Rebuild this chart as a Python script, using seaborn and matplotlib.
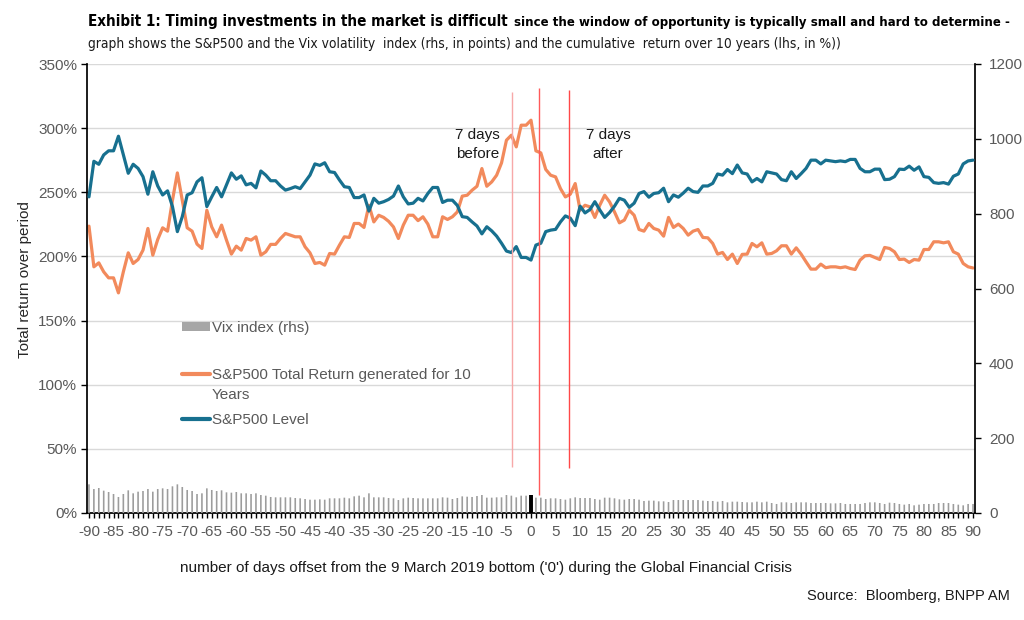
import numpy as np
import pandas as pd
import matplotlib
matplotlib.use("Agg")
import matplotlib.pyplot as plt
import seaborn as sns
from matplotlib import font_manager
from matplotlib.patches import Patch
from matplotlib.lines import Line2D

# trading days around the 9 March 2009 bottom
days = list(range(-90, 91))

# S&P500 level (rhs, points)
sp_level = [
    845, 940, 932, 957, 968, 968, 1007, 957, 908, 932,
    921, 899, 852, 912, 874, 850, 861, 819, 752, 792,
    850, 856, 885, 896, 819, 845, 870, 845, 877, 909,
    892, 901, 877, 881, 869, 914, 903, 888, 888, 874,
    863, 867, 872, 867, 885, 903, 933, 929, 936, 912,
    910, 890, 872, 870, 843, 843, 850, 807, 841, 828,
    832, 838, 847, 874, 845, 826, 828, 841, 834, 854,
    870, 870, 830, 836, 836, 822, 792, 790, 778, 767,
    746, 765, 754, 740, 721, 700, 696, 712, 683, 683,
    676, 716, 721, 752, 756, 758, 778, 794, 788, 768,
    820, 802, 811, 832, 810, 790, 803, 820, 841, 836,
    817, 828, 854, 859, 844, 854, 856, 868, 832, 850,
    844, 855, 868, 859, 857, 874, 874, 881, 906, 903,
    918, 907, 930, 909, 906, 885, 894, 885, 912, 909,
    906, 891, 888, 912, 894, 907, 921, 943, 943, 933,
    943, 941, 939, 941, 939, 945, 945, 921, 912, 912,
    919, 919, 891, 892, 899, 919, 918, 927, 916, 925,
    899, 897, 883, 881, 883, 879, 900, 906, 933, 941,
    943,
]

# S&P500 total return generated over the following 10 years (lhs, %)
sp_return = [
    223.6, 191.9, 195.0, 188.0, 183.3, 183.3, 171.6, 188.0, 202.8, 194.5,
    197.6, 204.9, 221.8, 201.0, 213.2, 222.3, 219.7, 243.8, 265.1, 243.8,
    222.3, 219.7, 209.6, 206.2, 236.0, 223.0, 215.3, 224.4, 212.7, 201.8,
    208.0, 204.9, 214.0, 212.7, 215.3, 201.0, 203.6, 209.4, 209.4, 214.0,
    217.9, 216.6, 215.3, 215.3, 207.5, 202.8, 194.5, 195.3, 193.2, 202.3,
    201.8, 208.8, 215.3, 214.8, 225.7, 225.7, 222.6, 239.9, 226.9, 232.1,
    230.4, 227.4, 223.0, 214.0, 224.4, 232.1, 232.1, 227.9, 230.9, 225.2,
    215.3, 215.3, 230.9, 228.8, 230.9, 234.7, 247.0, 247.7, 251.6, 254.7,
    268.5, 254.7, 258.1, 263.3, 272.9, 290.6, 294.5, 285.4, 302.3, 302.3,
    306.2, 282.3, 280.7, 267.8, 263.3, 262.0, 252.9, 246.4, 248.5, 256.8,
    236.0, 239.9, 238.6, 230.4, 239.9, 247.7, 242.5, 234.7, 226.2, 228.3,
    236.0, 232.1, 221.0, 219.7, 225.7, 221.8, 220.5, 215.8, 230.4, 222.6,
    225.2, 221.8, 216.6, 219.7, 221.0, 214.8, 214.5, 210.1, 201.8, 203.1,
    197.6, 201.8, 194.5, 201.6, 201.8, 210.1, 207.5, 210.6, 201.8, 202.3,
    204.4, 208.3, 208.3, 201.8, 206.7, 201.8, 195.8, 190.1, 190.1, 194.0,
    191.2, 191.9, 191.9, 191.2, 191.9, 190.6, 189.8, 197.1, 200.5, 200.8,
    199.2, 197.6, 207.0, 206.2, 203.6, 197.6, 197.9, 195.3, 197.6, 197.1,
    205.4, 205.4, 211.4, 211.4, 210.6, 211.4, 203.6, 201.8, 194.5, 191.9,
    191.0,
]

# Vix index (rhs, points)
vix = [
    76.6, 64.1, 66.8, 59.7, 56.1, 50.8, 42.8, 50.8, 60.6, 52.6,
    57.0, 58.8, 64.1, 57.0, 64.1, 65.9, 64.1, 71.3, 76.6, 69.5,
    61.5, 58.8, 50.8, 52.6, 65.9, 61.5, 58.8, 60.6, 55.2, 54.3,
    56.1, 52.6, 52.6, 50.8, 52.6, 48.1, 46.3, 42.8, 41.9, 41.9,
    41.9, 41.9, 40.1, 39.2, 37.4, 35.6, 35.6, 36.5, 35.6, 39.2,
    39.2, 39.2, 41.0, 39.2, 44.5, 46.3, 41.9, 52.6, 41.9, 41.9,
    41.9, 40.1, 39.2, 34.7, 39.2, 41.0, 40.1, 39.2, 39.2, 39.2,
    39.2, 39.2, 41.9, 41.0, 37.4, 40.1, 44.5, 43.6, 42.8, 45.4,
    48.1, 41.0, 41.0, 41.9, 41.9, 48.1, 46.3, 41.9, 46.3, 46.3,
    48.1, 41.0, 41.0, 37.4, 39.2, 39.2, 37.4, 35.6, 39.2, 41.9,
    40.1, 40.1, 40.1, 37.4, 35.6, 41.0, 41.0, 39.2, 36.5, 35.6,
    37.4, 37.4, 35.6, 32.1, 33.0, 33.0, 31.2, 31.2, 29.4, 34.7,
    34.7, 34.7, 34.7, 34.7, 34.7, 33.0, 32.1, 32.1, 30.3, 32.1,
    28.5, 30.3, 30.3, 29.4, 28.5, 28.5, 30.3, 28.5, 30.3, 26.7,
    24.1, 28.5, 28.5, 26.7, 28.5, 28.5, 28.5, 26.7, 26.7, 26.7,
    26.7, 25.8, 25.8, 26.7, 24.1, 24.1, 24.1, 24.1, 26.7, 28.5,
    28.5, 26.7, 24.1, 27.6, 26.7, 24.1, 22.3, 24.1, 20.5, 22.3,
    24.1, 24.1, 24.1, 26.7, 26.7, 26.7, 24.1, 22.3, 20.5, 24.1,
    24.1,
]

# the "7 days before / bottom / 7 days after" markers
marker_days = [-3.9, 1.7, 7.8]
marker_bottom = [123, 48, 120]
marker_top = [1125, 1136, 1130]
marker_colors = ["#f7a8a8", "#ff5a5a", "#ff4848"]

BLUE = "#17708f"
ORANGE = "#f28a5c"
GREY_TXT = "#595959"

df = pd.DataFrame({"day": days, "level": sp_level, "ret": sp_return, "vix": vix})

sns.set_theme(style="white")
plt.rcParams["font.family"] = ["Liberation Sans", "DejaVu Sans"]


def font_ok(name):
    try:
        font_manager.findfont(font_manager.FontProperties(family=name),
                              fallback_to_default=False)
        return True
    except ValueError:
        return False


if font_ok("Liberation Sans Narrow"):
    narrow = dict(family=["Liberation Sans Narrow", "DejaVu Sans"])
else:
    narrow = dict(family=["DejaVu Sans"], stretch="condensed")

fig = plt.figure(figsize=(10.24, 6.2), dpi=100)
ax = fig.add_axes([87 / 1024, 1 - 513 / 620, 888 / 1024, 449 / 620])
ax2 = ax.twinx()

# Vix bars (rhs)
bar_colors = ["#000000" if d == 0 else "#9c9c9c" for d in days]
bar_widths = [0.8 if d == 0 else 0.33 for d in days]
bars = ax2.bar(df["day"], df["vix"], width=bar_widths, color=bar_colors, linewidth=0, zorder=1)
for b in bars:
    b.set_snap(False)

sns.lineplot(data=df, x="day", y="ret", ax=ax, color=ORANGE, linewidth=2.3)
sns.lineplot(data=df, x="day", y="level", ax=ax2, color=BLUE, linewidth=2.3, zorder=3)

ax2.vlines(marker_days, marker_bottom, marker_top, colors=marker_colors, linewidth=1, zorder=4)

ax.set_xlim(-90.4, 90.4)
ax.set_ylim(0, 350)
ax2.set_ylim(0, 1200)

ax.set_xticks(days)
ax.set_xticklabels([str(d) if d % 5 == 0 else "" for d in days])
ax.set_yticks(range(0, 351, 50))
ax.set_yticklabels([f"{v}%" for v in range(0, 351, 50)])
ax2.set_yticks(range(0, 1201, 200))

ax.tick_params(axis="x", bottom=True, direction="out", length=3.5, width=1, color="black",
               labelsize=11, labelcolor=GREY_TXT, pad=5)
ax.tick_params(axis="y", left=True, direction="out", length=4, width=1, color="black",
               labelsize=11, labelcolor=GREY_TXT, pad=3)
ax2.tick_params(axis="y", right=True, direction="out", length=4, width=1, color="black",
                labelsize=11, labelcolor=GREY_TXT, pad=6)

ax.yaxis.grid(True, color="#d9d9d9", linewidth=1)
ax.xaxis.grid(False)
ax2.grid(False)
for s in ["top", "right"]:
    ax.spines[s].set_visible(False)
for s in ["top", "left", "bottom"]:
    ax2.spines[s].set_visible(False)
ax.spines["left"].set_color("black")
ax.spines["bottom"].set_color("black")
ax2.spines["right"].set_color("black")
ax.set_xlabel("")
ax2.set_ylabel("")
ax.set_ylabel("Total return over period", fontsize=11, color="#262626")
ax.yaxis.set_label_coords(-0.062, 0.52)

ax.text(-10.9, 287, "7 days\nbefore", ha="center", va="center", fontsize=11,
        linespacing=1.45, color="#1a1a1a")
ax.text(15.7, 287, "7 days\nafter", ha="center", va="center", fontsize=11,
        linespacing=1.45, color="#1a1a1a")

# legends
leg_a = ax2.legend(handles=[Patch(facecolor="#a6a6a6", edgecolor="none")],
                   labels=["Vix index (rhs)"], loc="center left",
                   bbox_to_anchor=(0.107, 0.412), frameon=False, fontsize=11,
                   handlelength=1.85, handleheight=0.55, handletextpad=0.1,
                   borderpad=0, borderaxespad=0)
for t in leg_a.get_texts():
    t.set_color(GREY_TXT)
ax2.add_artist(leg_a)
leg_b = ax2.legend(handles=[Line2D([], [], color=ORANGE, lw=3), Line2D([], [], color=BLUE, lw=3)],
                   labels=["S&P500 Total Return generated for 10\nYears", "S&P500 Level"],
                   loc="upper left", bbox_to_anchor=(0.107, 0.324), frameon=False,
                   fontsize=11, handlelength=1.85, handletextpad=0.1, labelspacing=0.75,
                   borderpad=0, borderaxespad=0)
for t in leg_b.get_texts():
    t.set_color(GREY_TXT)
    t.set_linespacing(1.55)
h0 = leg_b.legend_handles[0]
h0.set_ydata(np.asarray(h0.get_ydata()) + 8)

# titles and footnotes
fig.canvas.draw()
renderer = fig.canvas.get_renderer()

t1 = fig.text(88 / 1024, 1 - 26 / 620, "Exhibit 1: Timing investments in the market is difficult",
              fontweight="bold", fontsize=10, va="baseline", color="black", **narrow)
t2 = fig.text(431 / 1024, 1 - 26 / 620,
              "since the window of opportunity is typically small and hard to determine -",
              fontweight="bold", fontsize=10, va="baseline", color="black", **narrow)
w1 = t1.get_window_extent(renderer).width
w2 = t2.get_window_extent(renderer).width
ratio = 1.15
size2 = 10 * 912 / (w1 * ratio + w2)
size1 = size2 * ratio
t1.set_fontsize(size1)
t2.set_fontsize(size2)
t1_end = t1.get_window_extent(renderer).x1
t2.set_x((t1_end + 6) / 1024)

t3 = fig.text(88 / 1024, 1 - 48 / 620,
              "graph shows the S&P500 and the Vix volatility  index (rhs, in points) and the cumulative  return over 10 years (lhs, in %))",
              fontsize=10, va="baseline", color="#1a1a1a", **narrow)
w3 = t3.get_window_extent(renderer).width
t3.set_fontsize(10 * 752 / w3)

fig.text(180 / 1024, 1 - 568 / 620,
         "number of days offset from the 9 March 2019 bottom ('0') during the Global Financial Crisis",
         fontsize=11, va="center", ha="left", color="#1a1a1a")
fig.text(1010 / 1024, 1 - 596 / 620, "Source:  Bloomberg, BNPP AM",
         fontsize=10.5, va="center", ha="right", color="#1a1a1a")

fig.savefig("out.png", dpi=100)
